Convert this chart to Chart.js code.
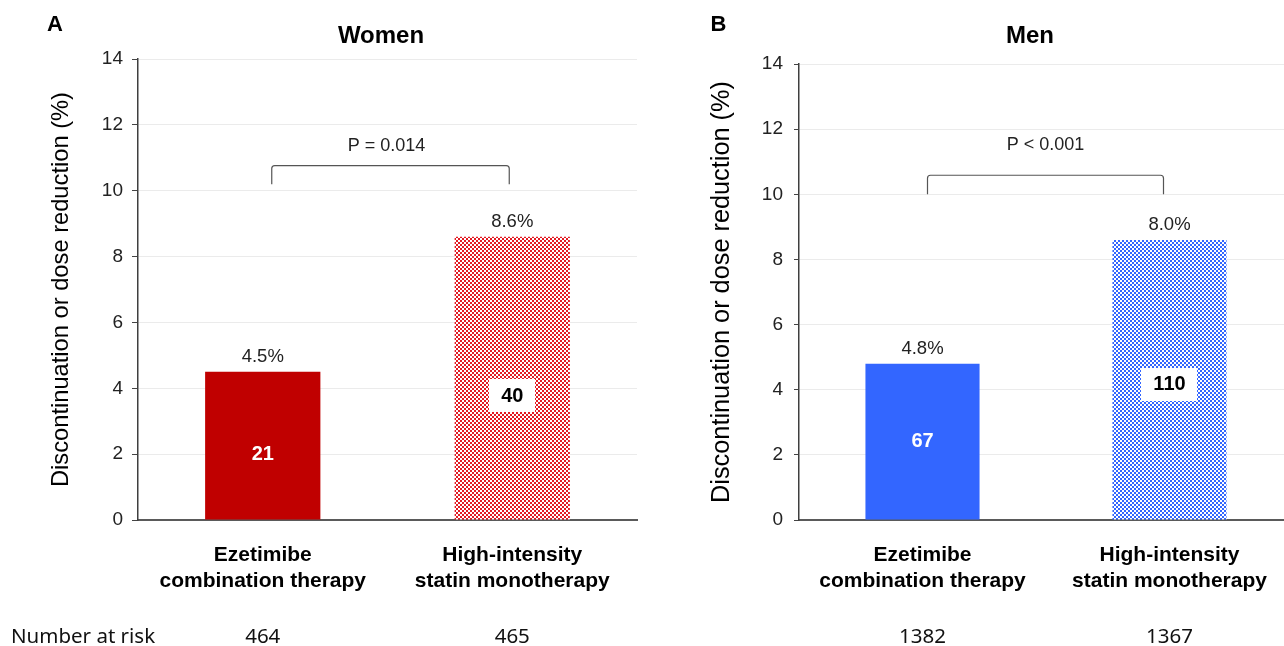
<!DOCTYPE html>
<html><head><meta charset="utf-8">
<script src="https://cdn.jsdelivr.net/npm/chart.js@4/dist/chart.umd.min.js"></script>
<style>
html,body{margin:0;padding:0;background:#fff;overflow:hidden;width:1284px;height:646px;position:relative;}
#ca{position:absolute;left:0;top:0;}
#cb{position:absolute;left:642px;top:0;}
</style></head><body>
<canvas id="ca" width="642" height="646"></canvas>
<canvas id="cb" width="660" height="646"></canvas>
<script>
// ---- data ----
const categories = [["Ezetimibe", "combination therapy"], ["High-intensity", "statin monotherapy"]];
const yTicks = [0, 2, 4, 6, 8, 10, 12, 14];
const yTitle = "Discontinuation or dose reduction (%)";
const womenValues = [4.5, 8.6];
const womenPctLabels = ["4.5%", "8.6%"];
const womenCounts = ["21", "40"];
const womenAtRisk = ["464", "465"];
const womenP = "P = 0.014";
const menValues = [4.8, 8.6];
const menPctLabels = ["4.8%", "8.0%"];
const menCounts = ["67", "110"];
const menAtRisk = ["1382", "1367"];
const menP = "P < 0.001";

const SANS = '"Liberation Sans", Arial, sans-serif';

function checker(color) {
  const c = document.createElement('canvas'); c.width = 4; c.height = 4;
  const x = c.getContext('2d');
  x.fillStyle = '#ffffff'; x.fillRect(0, 0, 4, 4);
  x.fillStyle = color; x.fillRect(0, 0, 2, 2); x.fillRect(2, 2, 2, 2);
  return x.createPattern(c, 'repeat');
}

const annot = {
  id: 'annot',
  afterDatasetsDraw(chart, args, o) {
    const ctx = chart.ctx, y = chart.scales.y;
    const meta = chart.getDatasetMeta(0);
    ctx.save();
    ctx.textAlign = 'center'; ctx.textBaseline = 'middle';
    // percent labels
    ctx.font = '18.5px ' + SANS; ctx.fillStyle = '#222';
    meta.data.forEach((bar, i) => ctx.fillText(o.pct[i], bar.x, bar.y - 14.5));
    // counts inside bars
    ctx.font = 'bold 20px ' + SANS;
    meta.data.forEach((bar, i) => {
      const cy = bar.base - (bar.base - bar.y) * o.countPos[i];
      if (o.boxed[i]) {
        const w = ctx.measureText(o.counts[i]).width + 24;
        ctx.fillStyle = '#fff';
        ctx.fillRect(Math.round(bar.x - w / 2), Math.round(cy - 16), Math.round(w), 33);
        ctx.fillStyle = '#000';
      } else ctx.fillStyle = '#fff';
      ctx.fillText(o.counts[i], bar.x, cy + 1);
    });
    // bracket
    const b = o.bracket;
    const x1 = meta.data[0].x + b.dx[0], x2 = meta.data[1].x + b.dx[1];
    const yt = y.getPixelForValue(b.top) + 0.5, yb = y.getPixelForValue(b.bottom);
    ctx.strokeStyle = '#555'; ctx.lineWidth = 1.2;
    ctx.beginPath(); ctx.moveTo(x1, yb); ctx.arcTo(x1, yt, x2, yt, 3); ctx.arcTo(x2, yt, x2, yb, 3); ctx.lineTo(x2, yb); ctx.stroke();
    ctx.font = '18px ' + SANS; ctx.fillStyle = '#222';
    ctx.fillText(o.p, (x1 + x2) / 2 + b.pdx, y.getPixelForValue(b.pY));
    // titles
    ctx.fillStyle = '#000';
    ctx.font = 'bold 24px ' + SANS;
    ctx.fillText(o.title, o.titleX, 36.5);
    ctx.font = 'bold 22px ' + SANS;
    ctx.fillText(o.letter, o.letterX, 25);
    // number at risk
    ctx.font = '20.5px "Noto Sans", "Open Sans", sans-serif'; ctx.fillStyle = '#111';
    if (o.riskLabel) { ctx.textAlign = 'left'; ctx.fillText(o.riskLabel, 11, 637); ctx.textAlign = 'center'; }
    meta.data.forEach((bar, i) => ctx.fillText(o.atRisk[i], bar.x, 637));
    ctx.restore();
  }
};

function makeChart(id, values, colors, cfg) {
  return new Chart(document.getElementById(id), {
    type: 'bar',
    data: {
      labels: categories,
      datasets: [{ data: values, backgroundColor: colors, borderWidth: 0, barPercentage: 0.462, categoryPercentage: 1 }]
    },
    options: {
      responsive: false, animation: false, devicePixelRatio: 1,
      layout: { padding: { top: cfg.padTop, right: cfg.padRight, left: 0, bottom: 0 } },
      plugins: { legend: { display: false }, tooltip: { enabled: false }, title: { display: false }, annot: cfg.annot },
      scales: {
        x: {
          grid: { display: true, drawOnChartArea: false, drawTicks: false },
          border: { display: true, color: '#5a5a5a', width: 2 },
          ticks: { font: { family: SANS, size: 21, weight: 'bold' }, color: '#000', padding: 23, maxRotation: 0, autoSkip: false },
          afterFit(s) { s.height = 126; }
        },
        y: {
          min: 0, max: 14,
          afterBuildTicks(s) { s.ticks = yTicks.map(v => ({ value: v })); },
          ticks: { font: { family: SANS, size: cfg.tickSize }, color: '#222', padding: cfg.tickPad },
          grid: { color: '#ebebeb', tickColor: '#444', tickLength: cfg.tickLen, lineWidth: 1 },
          border: { color: '#3f3f3f', width: 1.5 },
          title: { display: true, text: yTitle, color: '#000', font: { family: SANS, size: cfg.titleSize }, padding: { top: cfg.titlePad, bottom: 0 } },
          afterFit(s) { s.width = cfg.yWidth; }
        }
      }
    },
    plugins: [annot]
  });
}

makeChart('ca', womenValues, ['#C00000', checker('#E31B23')], {
  padTop: 59, padRight: 5, yWidth: 138, tickSize: 19, tickPad: 9, tickLen: 6, titleSize: 23.7, titlePad: 47,
  annot: { pct: womenPctLabels, counts: womenCounts, countPos: [0.45, 0.44], boxed: [false, true], atRisk: womenAtRisk,
    riskLabel: 'Number at risk', p: womenP, bracket: { dx: [9, -3], top: 10.78, bottom: 10.2, pY: 11.37, pdx: -4 },
    title: 'Women', titleX: 381, letter: 'A', letterX: 55 }
});
makeChart('cb', menValues, ['#3366FF', checker('#3366FF')], {
  padTop: 64, padRight: 9, yWidth: 157, tickSize: 19, tickPad: 11, tickLen: 5, titleSize: 25.3, titlePad: 65,
  annot: { pct: menPctLabels, counts: menCounts, countPos: [0.51, 0.486], boxed: [false, true], atRisk: menAtRisk,
    riskLabel: null, p: menP, bracket: { dx: [5, -6], top: 10.6, bottom: 10.0, pY: 11.5, pdx: 0 },
    title: 'Men', titleX: 388, letter: 'B', letterX: 76.5 }
});
</script>
</body></html>
